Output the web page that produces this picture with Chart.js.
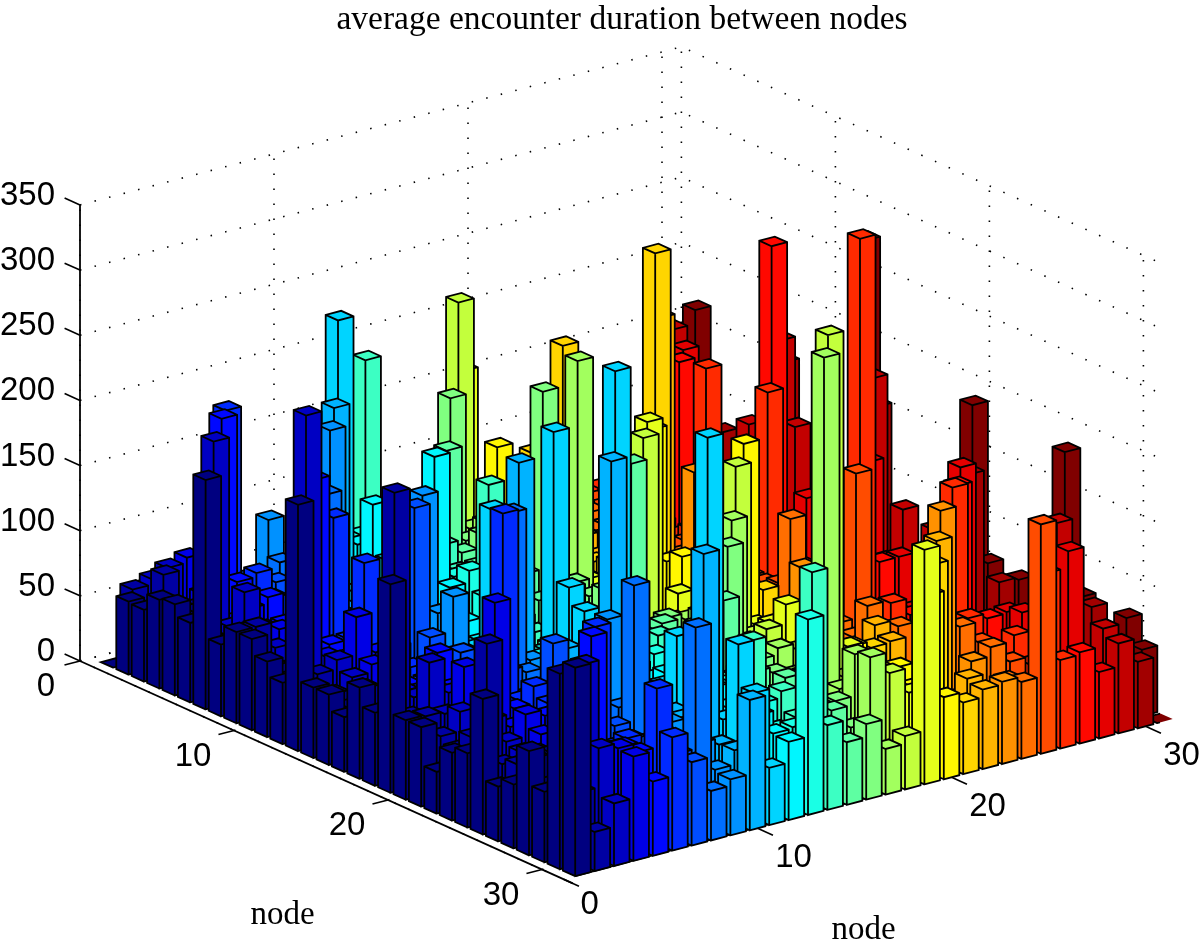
<!DOCTYPE html>
<html lang="en">
<head>
  <meta charset="UTF-8">
  <title>average encounter duration between nodes</title>
  <script src="https://cdn.jsdelivr.net/npm/chart.js"></script>
  <style>
    body { margin: 0; background: #fff; }
    canvas { display: block; }
  </style>
</head>
<body>
  <canvas id="myChart" width="1200" height="947"></canvas>
  <script>
    // heights, one list per node on the x axis (y = 1..31)
    var node01 = [0,56,55,68,70,61,176,55,70,70,58,47,189,54,54,42,70,56,160,61,61,32,52,57,104,42,49,80,54,150,160];
    var node02 = [56,0,78,55,60,45,40,61,70,45,40,50,55,45,40,60,45,221,55,60,50,45,60,137,50,55,65,50,60,55,30];
    var node03 = [60,74,0,55,187,50,82,45,50,40,239,45,62,54,40,45,40,60,92,58,65,50,70,58,55,60,65,50,144,85,48];
    var node04 = [50,78,55,0,45,60,50,55,40,45,50,40,91,60,45,50,45,60,65,90,55,150,60,75,65,50,70,55,60,81,80];
    var node05 = [45,60,186,66,0,65,50,45,171,50,45,55,60,50,45,40,81,60,55,70,55,65,50,70,60,75,147,65,73,74,57];
    var node06 = [40,183,50,69,55,0,45,40,138,50,114,45,60,50,45,55,40,65,60,200,62,78,70,55,65,145,58,70,60,119,87];
    var node07 = [35,50,45,58,40,50,0,45,50,70,45,40,163,69,45,68,40,60,70,55,65,107,60,70,55,65,60,50,55,65,64];
    var node08 = [30,45,64,40,50,132,45,0,40,50,35,45,40,35,45,40,30,182,65,60,70,55,65,60,70,169,55,65,50,158,38];
    var node09 = [82,40,35,45,172,40,35,40,0,45,154,69,87,40,35,45,30,65,55,70,60,65,123,60,70,55,65,50,60,45,43];
    var node10 = [30,35,40,180,30,35,40,30,35,0,40,35,30,40,35,202,35,60,75,55,65,235,60,70,55,64,60,196,55,56,100];
    var node11 = [35,30,238,35,40,30,35,40,35,30,0,35,146,30,35,35,227,113,100,60,295,65,55,70,113,60,276,65,128,96,44];
    var node12 = [30,35,62,98,60,55,65,156,61,40,30,0,35,30,40,35,60,70,55,75,65,60,70,85,60,75,65,55,70,61,60];
    var node13 = [50,60,55,70,60,65,55,60,70,55,65,50,0,35,40,30,35,65,75,60,70,55,80,65,60,75,60,70,55,62,150];
    var node14 = [185,55,65,60,50,70,55,60,132,30,40,35,30,0,35,40,30,60,70,75,60,65,80,55,70,103,65,75,60,177,65];
    var node15 = [30,35,40,30,133,60,55,70,55,65,50,60,70,55,0,40,187,65,75,55,70,60,114,65,70,55,76,60,65,67,48];
    var node16 = [35,30,40,164,60,70,55,65,60,201,55,65,60,70,55,0,35,70,60,75,65,146,55,70,65,60,75,55,65,50,58];
    var node17 = [30,40,55,60,70,50,65,55,60,70,226,35,40,30,35,40,0,65,75,60,157,70,55,75,60,70,314,65,97,100,35];
    var node18 = [30,219,35,40,30,35,40,30,35,40,30,35,40,179,35,50,40,0,70,189,65,75,60,70,60,322,65,75,58,84,41];
    var node19 = [157,35,40,30,35,40,30,35,40,30,35,40,182,35,61,40,30,35,0,64,70,90,60,75,65,79,65,70,60,65,180];
    var node20 = [61,100,35,40,30,35,40,30,35,40,30,167,71,80,35,40,30,188,35,0,73,65,75,60,70,65,55,70,60,136,63];
    var node21 = [40,30,97,35,190,30,35,40,30,35,293,40,49,35,30,40,35,72,30,40,0,35,30,40,65,35,30,40,150,35,55];
    var node22 = [35,40,30,35,40,30,35,40,30,234,35,40,30,35,40,30,35,40,30,35,40,0,35,73,66,40,35,159,30,64,61];
    var node23 = [30,35,40,30,35,40,30,35,35,40,117,35,30,40,35,30,35,81,40,30,35,40,0,35,30,40,173,35,68,40,63];
    var node24 = [35,30,40,35,30,40,35,30,40,35,30,40,35,30,40,104,35,30,40,35,64,30,59,0,40,35,80,30,75,55,59];
    var node25 = [30,40,35,30,40,35,30,40,35,30,40,35,35,40,35,30,40,35,151,30,40,35,30,40,0,35,64,40,60,35,176];
    var node26 = [40,35,30,40,35,30,40,169,35,30,40,172,30,40,35,30,40,322,35,53,30,40,35,163,68,0,35,71,54,129,68];
    var node27 = [35,40,30,35,154,40,30,35,40,30,275,35,40,30,35,40,30,70,35,40,30,35,155,40,64,30,0,65,35,40,70];
    var node28 = [30,35,40,154,30,35,40,30,35,40,30,83,35,40,30,132,62,70,35,30,40,160,35,30,65,70,35,0,133,40,51];
    var node29 = [35,155,30,40,35,30,109,40,184,123,35,40,30,35,187,40,97,35,92,40,30,35,40,30,35,40,140,35,0,75,69];
    var node30 = [30,35,40,83,35,30,40,158,35,40,30,35,40,156,30,35,40,30,35,136,30,64,40,35,30,40,49,77,40,0,51];
    var node31 = [157,40,35,30,40,35,30,40,35,30,40,269,35,30,40,35,30,40,180,64,35,62,40,30,176,70,35,40,70,51,0];

    var heights = [node01,node02,node03,node04,node05,node06,node07,node08,node09,node10,node11,node12,node13,node14,node15,node16,
      node17,node18,node19,node20,node21,node22,node23,node24,node25,node26,node27,node28,node29,node30,node31];

    var floorTicks = [0, 10, 20, 30];
    var zTicks = [0, 50, 100, 150, 200, 250, 300, 350];
    var xLimit = 31;
    var yLimitBack = 31.1;
    var yLimitFront = 32;
    var yFrontEdge = 31.4;
    var barHalf = 0.4;

    // 3d -> 2d, the two chart scales are then plain picture units
    function project(x, y, z) {
      return {
        x: 80 + 19.4 * x + 15.4 * y,
        y: 661 - 5.1 * x + 6.95 * y - 1.303 * z
      };
    }

    // matlab jet colormap
    function jet(t) {
      function c(v) { return Math.round(255 * Math.max(0, Math.min(1, v))); }
      var r = 1.5 - Math.abs(4 * t - 3);
      var g = 1.5 - Math.abs(4 * t - 2);
      var b = 1.5 - Math.abs(4 * t - 1);
      return 'rgb(' + c(r) + ',' + c(g) + ',' + c(b) + ')';
    }

    function lineSet(points, width, dash) {
      return {
        data: points,
        borderColor: '#000',
        borderWidth: width,
        borderDash: dash || [],
        pointRadius: 0,
        tension: 0,
        fill: false
      };
    }

    function barSet(col, row, h) {
      var x0 = col - barHalf, x1 = col + barHalf, y0 = row - barHalf, y1 = row + barHalf;
      var color = jet((col - 1) / 30);
      var path = [
        project(x0, y1, 0), project(x0, y0, 0), project(x0, y0, h), project(x1, y0, h),
        project(x1, y1, h), project(x1, y1, 0), project(x0, y1, 0), project(x0, y1, h),
        project(x0, y0, h), project(x0, y1, h), project(x1, y1, h)
      ];
      return {
        data: path,
        borderColor: '#000',
        backgroundColor: color,
        borderWidth: 1.8,
        pointRadius: 0,
        tension: 0,
        fill: 'shape',
        clip: { left: 0, top: 0, right: -40, bottom: 0 }
      };
    }

    var datasets = [];

    // first dataset is painted last, so nearest bar goes first
    for (var col = 1; col <= heights.length; col++) {
      for (var row = heights[col - 1].length; row >= 1; row--) {
        datasets.push(barSet(col, row, heights[col - 1][row - 1]));
      }
    }

    // axes
    var dotted = [1.5, 13.5];
    datasets.push(lineSet([project(0, 0, 0), project(0, yLimitFront, 0)], 1.8));
    datasets.push(lineSet([project(0.6, yFrontEdge, 0), project(xLimit, yLimitBack, 0)], 1.8));
    datasets.push(lineSet([project(0, 0, 0), project(0, 0, 350)], 1.8));
    zTicks.forEach(function(z) {
      datasets.push(lineSet([project(0, 0, z), project(0, -1, z)], 1.6));
    });
    floorTicks.forEach(function(t) {
      datasets.push(lineSet([project(0, t, 0), project(-0.8, t, 0)], 1.6));
      datasets.push(lineSet([project(t, yFrontEdge, 0), project(t, yFrontEdge + 1, 0)], 1.6));
    });

    // dotted grid on the two back walls and the floor
    zTicks.forEach(function(z) {
      datasets.push(lineSet([project(0, 0, z), project(xLimit, 0, z), project(xLimit, yLimitBack, z)], 1.6, dotted));
    });
    floorTicks.forEach(function(t) {
      datasets.push(lineSet([project(t, 0, 0), project(t, 0, 350)], 1.6, dotted));
      datasets.push(lineSet([project(xLimit, t, 0), project(xLimit, t, 350)], 1.6, dotted));
      datasets.push(lineSet([project(t, 0, 0), project(t, yLimitBack, 0)], 1.6, dotted));
      datasets.push(lineSet([project(0, t, 0), project(xLimit, t, 0)], 1.6, dotted));
    });

    var axisText = {
      id: 'axisText',
      afterDraw: function(chart) {
        var ctx = chart.ctx;
        var sx = chart.scales.x, sy = chart.scales.y;
        function put(p, dx, dy, text) {
          ctx.fillText(text, sx.getPixelForValue(p.x) + dx, sy.getPixelForValue(p.y) + dy);
        }
        ctx.save();
        ctx.fillStyle = '#000';
        ctx.textBaseline = 'middle';
        ctx.font = '33px "Liberation Sans"';
        ctx.textAlign = 'right';
        zTicks.forEach(function(z) { put(project(0, 0, z), -25, -9, String(z)); });
        ctx.textAlign = 'center';
        floorTicks.forEach(function(t) {
          put(project(0, t, 0), t ? -41 : -34, 26, String(t));
          put(project(t, yFrontEdge, 0), t ? 36 : 26, t ? 30 : 26, String(t));
        });
        ctx.font = '33px "Liberation Serif"';
        put(project(0, 31.6, 0), -284, 35, 'node');
        put(project(15, 31.6, 0), 6, 126, 'node');
        ctx.restore();
      }
    };

    new Chart(document.getElementById('myChart').getContext('2d'), {
      type: 'line',
      data: { datasets: datasets },
      plugins: [axisText],
      options: {
        responsive: false,
        animation: false,
        events: [],
        layout: { padding: { left: 44 } },
        scales: {
          x: { type: 'linear', display: false, min: 44, max: 1200 },
          y: { type: 'linear', display: false, min: 40, max: 947, reverse: true }
        },
        plugins: {
          legend: { display: false },
          tooltip: { enabled: false },
          title: {
            display: true,
            text: 'average encounter duration between nodes',
            color: '#000',
            padding: { top: 4, bottom: 4 },
            font: { family: '"Liberation Serif"', size: 33.5, weight: 'normal', lineHeight: '32px' }
          }
        }
      }
    });
  </script>
</body>
</html>
